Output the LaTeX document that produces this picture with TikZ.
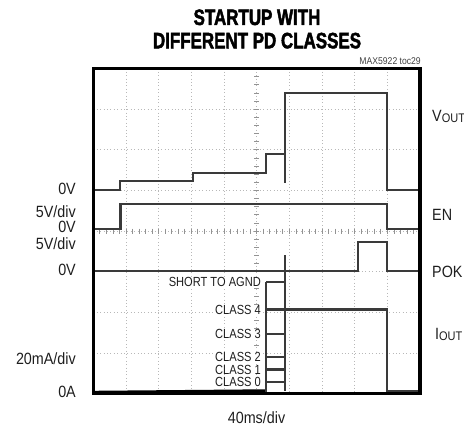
\documentclass[tikz,border=0pt]{standalone}
\usepackage{fontspec}
\setmainfont{Liberation Sans}
\newfontfamily\titlefont{Liberation Sans}[FakeStretch=0.76, BoldFeatures={FakeBold=2}]
\newfontfamily\labfont{Liberation Sans}[FakeStretch=0.88]
\newfontfamily\clsfont{Liberation Sans}[FakeStretch=0.84]
\definecolor{trace}{HTML}{3A3A3A}
\definecolor{gridc}{HTML}{B8B8B8}
\definecolor{txt}{HTML}{1E1E1E}
\tikzset{
  titletext/.style={inner sep=0pt, text=black, font=\titlefont\bfseries\fontsize{22.3}{22.3}\selectfont},
  axlabel/.style={inner sep=0pt, text=txt, font=\labfont\fontsize{16.3}{16.3}\selectfont},
  clslabel/.style={inner xsep=1pt, inner ysep=0pt, fill=white, text=txt, anchor=east, font=\clsfont\fontsize{13.2}{13.2}\selectfont},
  smalllabel/.style={inner sep=0pt, text=black!75, font=\labfont\fontsize{9.8}{9.8}\selectfont},
  gridline/.style={gridc, line width=0.8pt, dash pattern=on 1pt off 2.4pt},
  gridtick/.style={gridc!80!black, line width=0.7pt},
  tr/.style={trace, line width=2pt},
  frame/.style={black, line width=3.4pt}
}
\begin{document}
\begin{tikzpicture}[x=1pt,y=-1pt]
\useasboundingbox (0,0) rectangle (464,430);
% grid
\foreach \k in {1,...,9} {
  \draw[gridline] ({93.3+32.67*\k},68.5) -- ({93.3+32.67*\k},393.7);
}
\foreach \k in {1,...,7} {
  \draw[gridline] (93.3,{68.5+40.65*\k}) -- (420,{68.5+40.65*\k});
}
\foreach \k in {1,...,39} {
  \draw[gridtick] (254.2,{68.5+8.13*\k}) -- (259.2,{68.5+8.13*\k});
}
\foreach \k in {1,...,49} {
  \draw[gridtick] ({93.3+6.534*\k},228.6) -- ({93.3+6.534*\k},233.6);
}
% title and labels
\node[titletext, anchor=base] (t1) at (257,25) {STARTUP WITH};
\node[titletext, anchor=base] (t2) at (257,48.3) {DIFFERENT PD CLASSES};
\node[smalllabel, anchor=base east] (tag) at (421,65) {MAX5922 toc29};
\node[axlabel, anchor=base east] (l1) at (76,195) {0V};
\node[axlabel, anchor=base east] (l2) at (76,218) {5V/div};
\node[axlabel, anchor=base east] (l3) at (76,233) {0V};
\node[axlabel, anchor=base east] (l4) at (76,250) {5V/div};
\node[axlabel, anchor=base east] (l5) at (76,276) {0V};
\node[axlabel, anchor=base east] (l6) at (76,365) {20mA/div};
\node[axlabel, anchor=base east] (l7) at (76,398) {0A};
\node[axlabel, anchor=base] (xl) at (256.5,424) {40ms/div};
\node[axlabel, anchor=base west] (r1) at (432,121.7) {V{\fontsize{12.5}{12.5}\selectfont\raisebox{-1pt}{OUT}}};
\node[axlabel, anchor=base west] (r2) at (432,220.7) {EN};
\node[axlabel, anchor=base west] (r3) at (432,278) {POK};
\node[axlabel, anchor=base west] (r4) at (435,340) {I{\fontsize{12.5}{12.5}\selectfont\raisebox{-1pt}{OUT}}};
\node[clslabel] (c5) at (262,282.3) {SHORT TO AGND};
\node[clslabel] (c4) at (262,309.5) {CLASS 4};
\node[clslabel] (c3) at (262,334) {CLASS 3};
\node[clslabel] (c2) at (262,357.3) {CLASS 2};
\node[clslabel] (c1) at (262,369.5) {CLASS 1};
\node[clslabel] (c0) at (262,382) {CLASS 0};
% VOUT
\draw[tr] (93.3,190) -- (120.3,190) -- (120.3,181) -- (193,181) -- (193,173) -- (266,173) -- (266,154.3) -- (285,154.3);
\draw[tr] (285,183) -- (285,93.3) -- (386.7,93.3) -- (386.7,190) -- (420,190);
% EN
\draw[tr, line width=2.3pt] (93.3,229.3) -- (120.5,229.3) -- (120.5,204) -- (386.7,204) -- (386.7,229.3) -- (420,229.3);
% POK
\draw[tr] (93.3,271) -- (358.3,271) -- (358.3,242.3) -- (386.7,242.3) -- (386.7,271) -- (420,271);
\draw[tr] (285,255.5) -- (285,391);
% IOUT
\draw[black, line width=3pt] (93.3,392.3) -- (266,390.8);
\draw[tr] (266,282.3) -- (266,392);
\foreach \yy in {282.3,334,357.3,369.5,382} {
  \draw[tr, line width=2.4pt] (266,\yy) -- (285,\yy);
}
\draw[tr, line width=2.2pt] (266,309.5) -- (386.7,309.5) -- (386.7,391.5) -- (420,391.5);
% frame
\draw[frame] (93.3,68.5) rectangle (420,393.7);
\end{tikzpicture}
\end{document}
